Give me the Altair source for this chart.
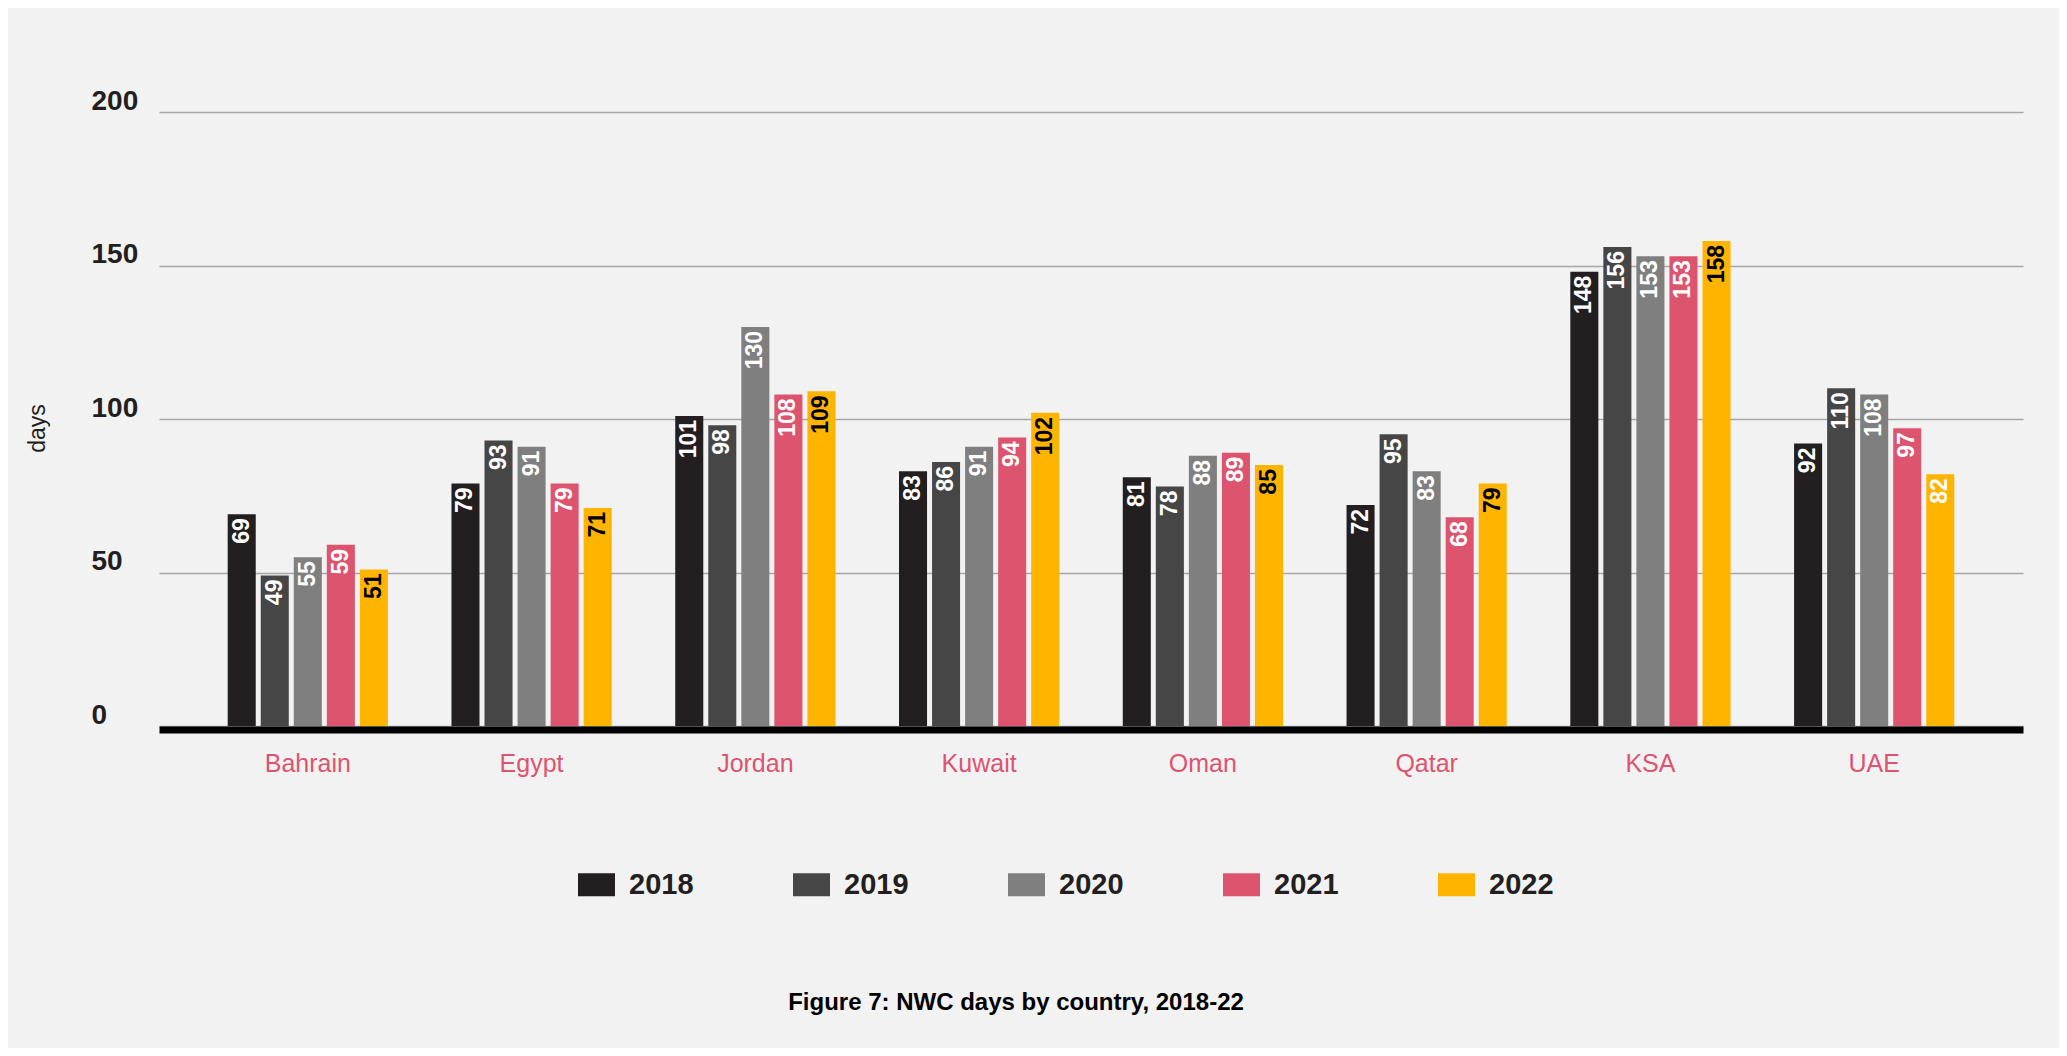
import altair as alt
import pandas as pd

countries = ["Bahrain", "Egypt", "Jordan", "Kuwait", "Oman", "Qatar", "KSA", "UAE"]
years = ["2018", "2019", "2020", "2021", "2022"]
v2018 = [69, 79, 101, 83, 81, 72, 148, 92]
v2019 = [49, 93, 98, 86, 78, 95, 156, 110]
v2020 = [55, 91, 130, 91, 88, 83, 153, 108]
v2021 = [59, 79, 108, 94, 89, 68, 153, 97]
v2022 = [51, 71, 109, 102, 85, 79, 158, 82]
y_ticks = [0, 50, 100, 150, 200]
year_colors = ["#231f20", "#464646", "#7f7f7f", "#dc546d", "#ffb400"]

rows = []
for yr, vals in zip(years, [v2018, v2019, v2020, v2021, v2022]):
    for c, v in zip(countries, vals):
        rows.append({"country": c, "year": yr, "value": v})
df = pd.DataFrame(rows)

FONT = "Liberation Sans"

base = alt.Chart(df).encode(
    x=alt.X(
        "country:N",
        sort=countries,
        title=None,
        scale=alt.Scale(paddingInner=0.284, paddingOuter=0.307),
        axis=alt.Axis(
            labelAngle=0,
            labelFont=FONT,
            labelFontSize=25,
            labelColor="#dc5470",
            labelBaseline="alphabetic",
            labelPadding=42,
            ticks=False,
            tickSize=0,
            domain=True,
            domainColor="#000000",
            domainWidth=7,
            offset=3.5,
            zindex=1,
            grid=False,
        ),
    ),
    xOffset=alt.XOffset("year:N", sort=years, scale=alt.Scale(paddingInner=0.1515, paddingOuter=0)),
    y=alt.Y(
        "value:Q",
        scale=alt.Scale(domain=[0, 200], nice=False),
        axis=alt.Axis(
            values=y_ticks,
            title="days",
            titleFont=FONT,
            titleFontSize=23,
            titleFontWeight="normal",
            titleColor="#231f20",
            titleAngle=270,
            titleAlign="center",
            titleBaseline="middle",
            titleX=-122,
            titleY=316,
            labelFont=FONT,
            labelFontSize=28,
            labelFontWeight="bold",
            labelColor="#231f20",
            labelAlign="left",
            labelBaseline="alphabetic",
            labelPadding=68,
            labelOffset=-3,
            ticks=False,
            tickSize=0,
            domain=False,
            grid=True,
            gridColor="#a6a6a6",
            gridWidth=1.5,
        ),
    ),
)

bars = base.mark_bar().encode(
    color=alt.Color(
        "year:N",
        sort=years,
        scale=alt.Scale(domain=years, range=year_colors),
        legend=alt.Legend(
            title=None,
            orient="none",
            direction="horizontal",
            columns=5,
            legendX=419,
            legendY=754,
            symbolType="M-1,-0.62H1V0.62H-1Z",
            symbolSize=1369,
            symbolStrokeWidth=0,
            labelFont=FONT,
            labelFontSize=29,
            labelFontWeight="bold",
            labelColor="#231f20",
            labelOffset=14,
            columnPadding=99,
            padding=0,
        ),
    )
)

labels = base.mark_text(
    angle=270,
    align="right",
    baseline="middle",
    dx=-4,
    font=FONT,
    fontSize=23,
    fontWeight="bold",
).encode(
    text="value:Q",
    color=alt.condition(
        "datum.year == '2022' && datum.country != 'UAE'",
        alt.value("#000000"),
        alt.value("#ffffff"),
    ),
)

chart = (
    alt.layer(bars, labels)
    .properties(
        width=1864,
        height=614,
        padding={"left": 151, "top": 104, "right": 36, "bottom": 322},
        autosize=alt.AutoSizeParams(type="none"),
        background="#f2f2f2",
        title=alt.Title(
            "Figure 7: NWC days by country, 2018-22",
            orient="bottom",
            anchor="middle",
            frame="group",
            dx=-75,
            offset=91,
            font=FONT,
            fontSize=24,
            fontWeight="bold",
            color="#000000",
        ),
    )
    .configure_view(stroke=None)
)

chart.save("out.html", embed_options={"renderer": "svg", "actions": False})
